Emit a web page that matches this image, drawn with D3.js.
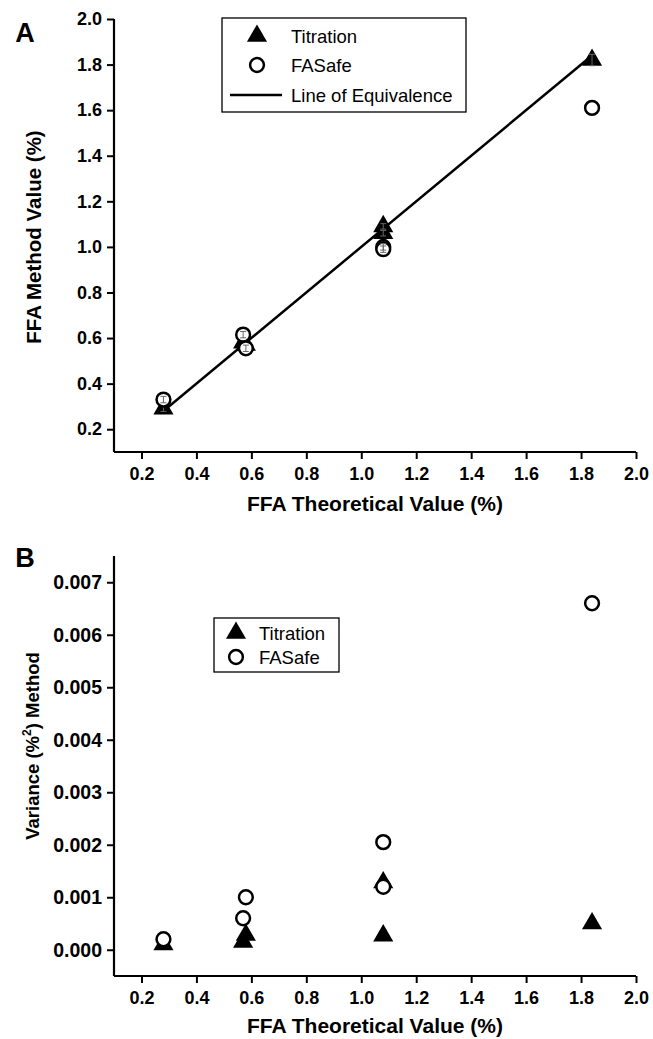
<!DOCTYPE html>
<html>
<head>
<meta charset="utf-8">
<script src="https://cdn.jsdelivr.net/npm/d3@7"></script>
<style>
  html, body { margin: 0; padding: 0; background: #fff; }
  svg { display: block; }
  text { font-family: "Liberation Sans", Arial, Helvetica, sans-serif; fill: #000; }
</style>
</head>
<body>
<svg id="chart" width="653" height="1039"></svg>
<script>
// ---------- Data ----------
const xTickValues = [0.2, 0.4, 0.6, 0.8, 1.0, 1.2, 1.4, 1.6, 1.8, 2.0];
const yTickValuesA = [0.2, 0.4, 0.6, 0.8, 1.0, 1.2, 1.4, 1.6, 1.8, 2.0];
const yTickValuesB = [0.000, 0.001, 0.002, 0.003, 0.004, 0.005, 0.006, 0.007];

// Panel A: method value vs theoretical value
const theoreticalX = [0.28, 0.57, 0.58, 1.08, 1.08, 1.84];
const titrationA = [0.29, 0.58, 0.57, 1.09, 1.06, 1.82];
const fasafeA = [0.33, 0.615, 0.555, 1.00, 0.99, 1.61];
const titrationErrA = [0.012, 0.012, 0.012, 0.012, 0.012, 0.025];
const fasafeErrA = [0.014, 0.014, 0.014, 0.014, 0.014, 0];
const equivalenceX = [0.28, 1.84];

// Panel B: variance
const titrationB = [0.0001, 0.00015, 0.00028, 0.00128, 0.00027, 0.0005];
const fasafeB = [0.0002, 0.0006, 0.0010, 0.0012, 0.00205, 0.0066];

const legendLabels = ["Titration", "FASafe", "Line of Equivalence"];

// ---------- Layout ----------
const svg = d3.select("#chart");
const FONT_TITLE = 21;

const x = d3.scaleLinear().domain([0.1, 2.0]).range([114, 636]);
const yA = d3.scaleLinear().domain([0.1, 2.0]).range([452, 19]);
const yB = d3.scaleLinear().domain([-0.0005, 0.0075]).range([976, 556]);

const triSym = d3.symbol().type(d3.symbolTriangle).size(175);

function styleTicks(sel, size) {
  sel.selectAll(".tick line").attr("stroke-width", 2).attr("stroke", "#000");
  sel.selectAll(".tick text").attr("font-size", size).attr("font-weight", "bold")
     .attr("font-family", '"Liberation Sans", Arial, sans-serif').attr("fill", "#000");
}

function drawAxes(g, y, yTicks, yFmt, yMinor, xAxisY, yFont) {
  // x axis
  const xMinor = d3.range(1, 20, 2).map(d => d / 10);
  const gx = g.append("g").attr("transform", `translate(0,${xAxisY})`);
  gx.call(d3.axisBottom(x).tickValues(xMinor).tickSize(4).tickFormat(""));
  gx.call(d3.axisBottom(x).tickValues(xTickValues).tickSize(7).tickSizeOuter(0)
      .tickFormat(d3.format(".1f")).tickPadding(8));
  gx.selectAll(".domain").attr("stroke-width", 2.2).attr("stroke", "#000")
     .attr("d", `M${x(0.1)},0H${x(2.0)}`);
  styleTicks(gx, 18);

  // y axis
  const gy = g.append("g").attr("transform", `translate(${x(0.1)},0)`);
  gy.call(d3.axisLeft(y).tickValues(yMinor).tickSize(4).tickFormat(""));
  gy.call(d3.axisLeft(y).tickValues(yTicks).tickSize(7).tickSizeOuter(0)
      .tickFormat(yFmt).tickPadding(5));
  gy.selectAll(".domain").attr("stroke-width", 2.2).attr("stroke", "#000")
     .attr("d", `M0,${y.range()[0]}V${y.range()[1]}`);
  styleTicks(gy, yFont);
}

function drawTriangles(g, xs, ys, y) {
  g.selectAll(null).data(xs.map((d, i) => [d, ys[i]])).join("path")
    .attr("d", triSym)
    .attr("transform", d => `translate(${x(d[0])},${y(d[1])})`)
    .attr("fill", "#000");
}
function drawCircles(g, xs, ys, y) {
  g.selectAll(null).data(xs.map((d, i) => [d, ys[i]])).join("circle")
    .attr("cx", d => x(d[0])).attr("cy", d => y(d[1])).attr("r", 6.9)
    .attr("fill", "#fff").attr("stroke", "#000").attr("stroke-width", 2.5);
}
function drawErr(g, xs, ys, es, y) {
  const pts = xs.map((d, i) => [d, ys[i], es[i]]).filter(d => d[2] > 0);
  const eg = g.append("g").attr("stroke", "#666").attr("stroke-width", 1);
  pts.forEach(d => {
    const cx = x(d[0]), y0 = y(d[1] - d[2]), y1 = y(d[1] + d[2]);
    eg.append("line").attr("x1", cx).attr("x2", cx).attr("y1", y0).attr("y2", y1);
    eg.append("line").attr("x1", cx - 3).attr("x2", cx + 3).attr("y1", y0).attr("y2", y0);
    eg.append("line").attr("x1", cx - 3).attr("x2", cx + 3).attr("y1", y1).attr("y2", y1);
  });
}

// ---------- Panel A ----------
const gA = svg.append("g");
drawAxes(gA, yA, yTickValuesA, d3.format(".1f"), d3.range(1, 20, 2).map(d => d / 10), yA(0.1), 18);

gA.append("path")
  .datum(equivalenceX)
  .attr("d", d3.line().x(d => x(d)).y(d => yA(d)))
  .attr("stroke", "#000").attr("stroke-width", 2.5).attr("fill", "none");

drawTriangles(gA, theoreticalX, titrationA, yA);
drawErr(gA, theoreticalX, titrationA, titrationErrA, yA);
drawCircles(gA, theoreticalX, fasafeA, yA);
drawErr(gA, theoreticalX, fasafeA, fasafeErrA, yA);

gA.append("text").attr("x", 25).attr("y", 42).attr("text-anchor", "middle")
  .attr("font-size", 27).attr("font-weight", "bold").text("A");
gA.append("text").attr("x", x(1.05)).attr("y", yA(0.1) + 59).attr("text-anchor", "middle")
  .attr("font-size", FONT_TITLE).attr("font-weight", "bold").text("FFA Theoretical Value (%)");
gA.append("text").attr("transform", `translate(41,237) rotate(-90)`)
  .attr("text-anchor", "middle").attr("font-size", 20.5).attr("font-weight", "bold")
  .text("FFA Method Value (%)");

// Legend A
const lgA = gA.append("g");
lgA.append("rect").attr("x", 222).attr("y", 18).attr("width", 244).attr("height", 94)
  .attr("fill", "#fff").attr("stroke", "#000").attr("stroke-width", 1.3);
lgA.append("path").attr("d", triSym).attr("transform", "translate(257,36)").attr("fill", "#000");
lgA.append("circle").attr("cx", 257).attr("cy", 65).attr("r", 6.9)
  .attr("fill", "#fff").attr("stroke", "#000").attr("stroke-width", 2.5);
lgA.append("line").attr("x1", 230).attr("x2", 282).attr("y1", 95).attr("y2", 95)
  .attr("stroke", "#000").attr("stroke-width", 2.5);
[36, 65, 95].forEach((yy, i) => {
  lgA.append("text").attr("x", 291).attr("y", yy).attr("dy", "0.36em")
    .attr("font-size", 18.5).text(legendLabels[i]);
});

// ---------- Panel B ----------
const gB = svg.append("g");
drawAxes(gB, yB, yTickValuesB, d3.format(".3f"), d3.range(-1, 16, 1).map(d => d * 0.0005), yB(-0.0005), 19.5);

drawTriangles(gB, theoreticalX, titrationB, yB);
drawCircles(gB, theoreticalX, fasafeB, yB);

gB.append("text").attr("x", 25).attr("y", 567).attr("text-anchor", "middle")
  .attr("font-size", 27).attr("font-weight", "bold").text("B");
gB.append("text").attr("x", x(1.05)).attr("y", yB(-0.0005) + 57).attr("text-anchor", "middle")
  .attr("font-size", FONT_TITLE).attr("font-weight", "bold").text("FFA Theoretical Value (%)");
const yt = gB.append("text").attr("transform", `translate(39,746) rotate(-90)`)
  .attr("text-anchor", "middle").attr("font-size", 18.5).attr("font-weight", "bold");
yt.append("tspan").text("Variance (%");
yt.append("tspan").attr("dy", -8).attr("font-size", 12).text("2");
yt.append("tspan").attr("dy", 8).text(") Method");

// Legend B
const lgB = gB.append("g");
lgB.append("rect").attr("x", 214).attr("y", 618).attr("width", 125).attr("height", 54)
  .attr("fill", "#fff").attr("stroke", "#000").attr("stroke-width", 1.3);
lgB.append("path").attr("d", triSym).attr("transform", "translate(236,633)").attr("fill", "#000");
lgB.append("circle").attr("cx", 236).attr("cy", 657).attr("r", 6.9)
  .attr("fill", "#fff").attr("stroke", "#000").attr("stroke-width", 2.5);
[633, 657].forEach((yy, i) => {
  lgB.append("text").attr("x", 259).attr("y", yy).attr("dy", "0.36em")
    .attr("font-size", 18.5).text(legendLabels[i]);
});
</script>
</body>
</html>
